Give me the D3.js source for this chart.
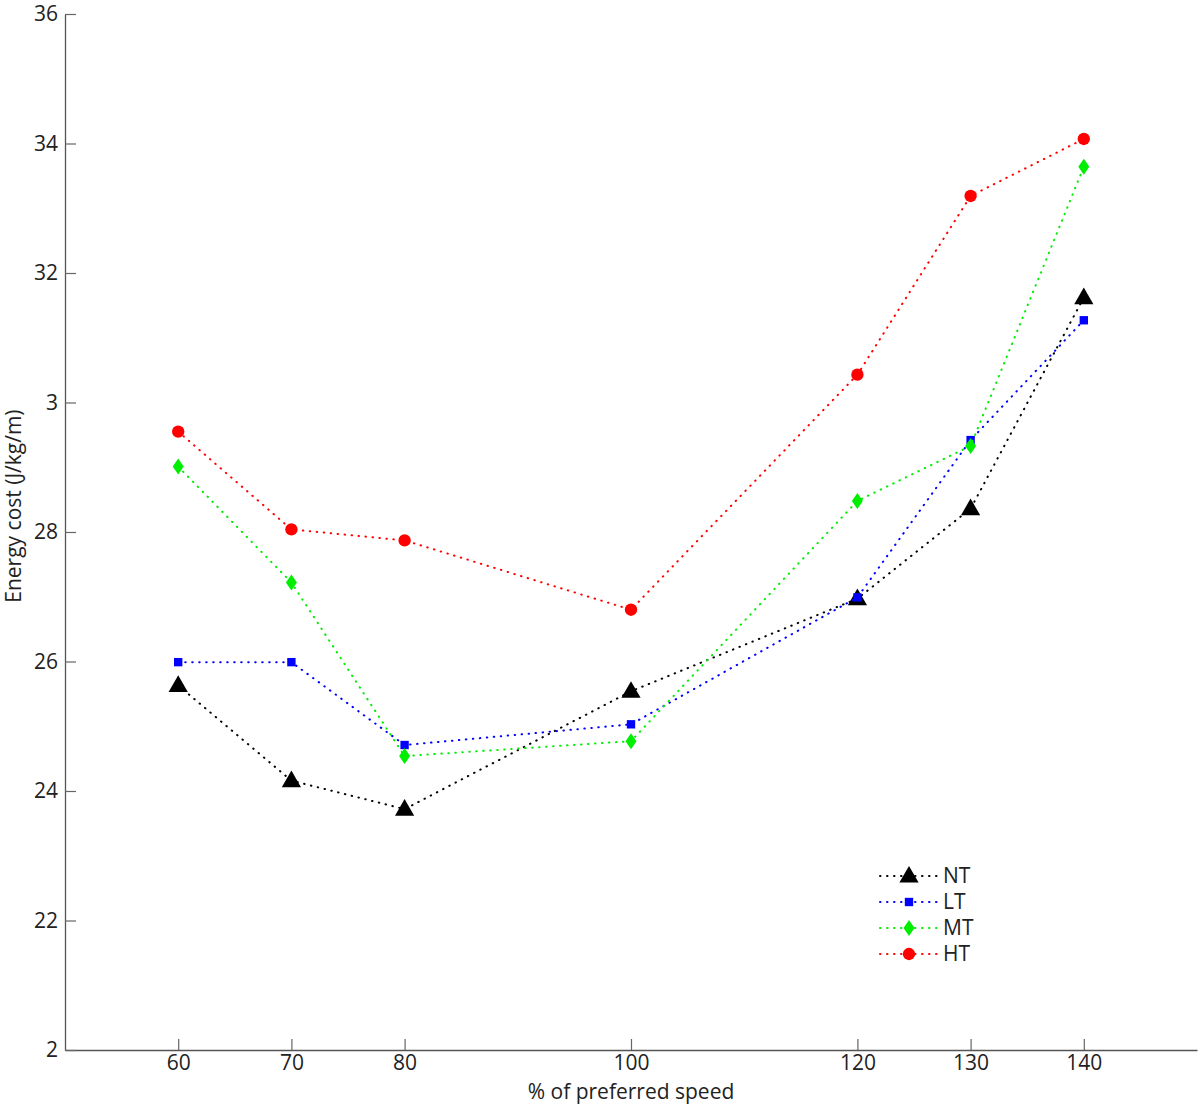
<!DOCTYPE html>
<html>
<head>
<meta charset="utf-8">
<script src="https://cdn.jsdelivr.net/npm/d3@7"></script>
<style>
  body { margin: 0; background: #fff; }
  text { font-family: "Open Sans", "Noto Sans", sans-serif; fill: #222; }
</style>
</head>
<body>
<svg id="chart" width="1200" height="1104"></svg>
<script>
var speeds = [60, 70, 80, 100, 120, 130, 140];
var nt = [25.63, 24.16, 23.72, 25.54, 26.97, 28.36, 31.62];
var lt = [25.99, 25.99, 24.71, 25.03, 26.99, 29.42, 31.27];
var mt = [29.01, 27.22, 24.54, 24.77, 28.48, 29.33, 33.64];
var ht = [29.55, 28.04, 27.87, 26.80, 30.43, 33.19, 34.07];
var yTicks = [20, 22, 24, 26, 28, 30, 32, 34, 36];
var yTickLabels = ["2", "22", "24", "26", "28", "3", "32", "34", "36"];
var seriesNames = ["NT", "LT", "MT", "HT"];

var series = [
  {name: "NT", values: nt, color: "#000000", symbol: d3.symbolTriangle, size: 160},
  {name: "LT", values: lt, color: "#0000ff", symbol: d3.symbolSquare, size: 70},
  {name: "MT", values: mt, color: "#00ee00", symbol: "diamond", size: 0},
  {name: "HT", values: ht, color: "#ff0000", symbol: d3.symbolCircle, size: 120}
]

var margin = ({left: 65, right: 3, top: 14, bottom: 54})
var width = 1200, height = 1104;
var fs = "21px";

var x = d3.scaleLinear().domain([50, 150]).range([margin.left, width - margin.right]);
var y = d3.scaleLinear().domain([20, 36]).range([height - margin.bottom, margin.top]);

var svg = d3.select("#chart");

function marker(g, s) {
  if (s.symbol === "diamond") {
    g.append("path").attr("d", "M0,-8L5.5,0L0,8L-5.5,0Z").attr("fill", s.color);
  } else {
    g.append("path").attr("d", d3.symbol(s.symbol, s.size)()).attr("fill", s.color)
      .attr("transform", s.symbol === d3.symbolTriangle ? "translate(0,1)" : null);
  }
}

// axes
var xAxis = svg.append("g")
  .attr("transform", `translate(0,${height - margin.bottom})`)
  .call(d3.axisBottom(x).tickValues(speeds).tickSizeInner(-11).tickSizeOuter(0).tickPadding(5));
var yAxis = svg.append("g")
  .attr("transform", `translate(${margin.left},0)`)
  .call(d3.axisLeft(y).tickValues(yTicks).tickFormat((d, i) => yTickLabels[i]).tickSizeInner(-11).tickSizeOuter(0).tickPadding(7));

[xAxis, yAxis].forEach(a => {
  a.select(".domain").attr("stroke", "#555").attr("stroke-width", 1.3);
  a.selectAll(".tick line").attr("stroke", "#666").attr("stroke-width", 1.2);
  a.selectAll(".tick text").attr("font-size", fs).attr("fill", "#222");
});

svg.append("text")
  .attr("x", x(100)).attr("y", 1099)
  .attr("text-anchor", "middle").attr("font-size", fs)
  .text("% of preferred speed");

svg.append("text")
  .attr("transform", `translate(21,${y(28.4)}) rotate(-90)`)
  .attr("text-anchor", "middle").attr("font-size", fs)
  .text("Energy cost (J/kg/m)");

var line = d3.line().x((d, i) => x(speeds[i])).y(d => y(d));

series.forEach(s => {
  svg.append("path")
    .attr("d", line(s.values))
    .attr("fill", "none")
    .attr("stroke", s.color)
    .attr("stroke-width", 2)
    .attr("stroke-linecap", "round")
    .attr("stroke-dasharray", "0.5,6.5");
  s.values.forEach((v, i) => {
    var g = svg.append("g").attr("transform", `translate(${x(speeds[i])},${y(v)})`);
    marker(g, s);
  });
});

// legend
var legend = svg.append("g").attr("transform", "translate(880,876)");
series.forEach((s, i) => {
  var row = legend.append("g").attr("transform", `translate(0,${i * 26})`);
  row.append("line")
    .attr("x1", 0).attr("x2", 58)
    .attr("stroke", s.color).attr("stroke-width", 2)
    .attr("stroke-linecap", "round").attr("stroke-dasharray", "0.5,6.5");
  var m = row.append("g").attr("transform", "translate(29,0)");
  marker(m, s);
  row.append("text")
    .attr("x", 63).attr("dy", "0.35em")
    .attr("font-size", fs)
    .text(s.name);
});
</script>
</body>
</html>
